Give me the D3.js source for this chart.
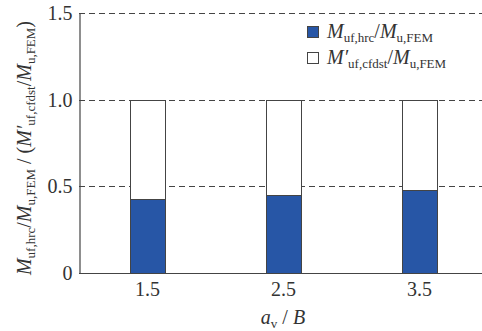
<!DOCTYPE html>
<html>
<head>
<meta charset="utf-8">
<script src="https://cdn.jsdelivr.net/npm/d3@7"></script>
<style>
  body { margin: 0; background: #fff; }
  svg text { font-family: "Times New Roman", "Liberation Serif", Tinos, serif !important; fill: #333; }
</style>
</head>
<body>
<div id="chart"></div>
<script>
// data
var ratios = [1.5, 2.5, 3.5];
var hrcValues = [0.43, 0.45, 0.48];   // M_uf,hrc / M_u,FEM
var cfdstValues = [1.0, 1.0, 1.0];    // M'_uf,cfdst / M_u,FEM
var yTicks = [0, 0.5, 1.0, 1.5];
var yTickLabels = ["0", "0.5", "1.0", "1.5"];

var W = 482, H = 331;
var margin = {top: 13, right: 0, bottom: 58, left: 79};

var x = d3.scaleLinear()
    .domain([1, 4])
    .range([margin.left, margin.left + 408]);

var y = d3.scaleLinear()
    .domain([0, 1.5])
    .range([H - margin.bottom, margin.top + 0.3]);

var barW = 35;
var blue = "#2756a6";
var stroke = "#444";

var svg = d3.select("#chart").append("svg")
    .attr("width", W)
    .attr("height", H);

// dashed grid lines
svg.append("g").selectAll("line")
    .data(yTicks.filter(function(d) { return d > 0; }))
    .enter().append("line")
    .attr("x1", margin.left)
    .attr("x2", W)
    .attr("y1", function(d) { return Math.round(y(d)) + 0.5; })
    .attr("y2", function(d) { return Math.round(y(d)) + 0.5; })
    .attr("stroke", stroke)
    .attr("stroke-width", 1)
    .attr("stroke-dasharray", "6,4");

// bars: white outline to the cfdst value, blue fill for hrc
var bars = svg.append("g").selectAll("g")
    .data(ratios)
    .enter().append("g");

bars.append("rect")
    .attr("x", function(d) { return Math.round(x(d) - barW / 2) + 0.5; })
    .attr("y", function(d, i) { return Math.round(y(cfdstValues[i])) + 0.5; })
    .attr("width", barW)
    .attr("height", function(d, i) { return Math.round(y(0)) - Math.round(y(cfdstValues[i])); })
    .attr("fill", "#fff")
    .attr("stroke", stroke);

bars.append("rect")
    .attr("x", function(d) { return Math.round(x(d) - barW / 2) + 0.5; })
    .attr("y", function(d, i) { return Math.round(y(hrcValues[i])) + 0.5; })
    .attr("width", barW)
    .attr("height", function(d, i) { return Math.round(y(0)) - Math.round(y(hrcValues[i])); })
    .attr("fill", blue)
    .attr("stroke", stroke);

// axes
var yAxis = svg.append("g")
    .attr("transform", "translate(" + (margin.left + 0.5) + ",0)")
    .call(d3.axisLeft(y).tickValues(yTicks)
        .tickFormat(function(d, i) { return yTickLabels[i]; })
        .tickSize(0).tickPadding(7));

var xAxis = svg.append("g")
    .attr("transform", "translate(0," + (Math.round(y(0)) + 0.5) + ")")
    .call(d3.axisBottom(x).tickValues(ratios)
        .tickFormat(d3.format(".1f"))
        .tickSize(0).tickPadding(8));

[yAxis, xAxis].forEach(function(a) {
  a.attr("font-family", null);
  a.select(".domain").attr("stroke", stroke).attr("stroke-width", 1.2);
  a.selectAll("text")
    .style("font-size", "20px")
    .attr("fill", "#333");
});
xAxis.select(".domain").attr("d", "M" + margin.left + ",0H" + W);

// x axis title
var xt = svg.append("text")
    .attr("x", 283)
    .attr("y", 324)
    .attr("text-anchor", "middle")
    .style("font-size", "20px");
xt.append("tspan").style("font-style", "italic").text("a");
xt.append("tspan").attr("baseline-shift", "-30%").style("font-size", "13px").text("v");
xt.append("tspan").text(" / ");
xt.append("tspan").style("font-style", "italic").text("B");

// helper for M with subscript
function addM(t, prime, sub, size, subSize) {
  t.append("tspan").style("font-style", "italic").style("font-size", size + "px").text(prime ? "M\u2032" : "M");
  t.append("tspan").attr("baseline-shift", "-30%").style("font-size", subSize + "px").text(sub);
}

// y axis title
var yt = svg.append("text")
    .attr("transform", "translate(31,148) rotate(-90)")
    .attr("text-anchor", "middle")
    .style("font-size", "20px");
addM(yt, false, "uf,hrc", 20, 13);
yt.append("tspan").text("/");
addM(yt, false, "u,FEM", 20, 13);
yt.append("tspan").text(" / (");
addM(yt, true, "uf,cfdst", 20, 13);
yt.append("tspan").text("/");
addM(yt, false, "u,FEM", 20, 13);
yt.append("tspan").text(")");

// legend
var legend = [
  {fill: blue, prime: false, sub: "uf,hrc"},
  {fill: "#fff", prime: true, sub: "uf,cfdst"}
];
var lg = svg.append("g").selectAll("g")
    .data(legend)
    .enter().append("g")
    .attr("transform", function(d, i) { return "translate(307," + (26 + i * 26) + ")"; });

lg.append("rect")
    .attr("x", 0.5).attr("y", 0.5)
    .attr("width", 11).attr("height", 11)
    .attr("fill", function(d) { return d.fill; })
    .attr("stroke", stroke);

lg.each(function(d) {
  var t = d3.select(this).append("text")
      .attr("x", 20)
      .attr("y", 12)
      .style("font-size", "20px");
  addM(t, d.prime, d.sub, 20, 13);
  t.append("tspan").text("/");
  addM(t, false, "u,FEM", 20, 13);
});
</script>
</body>
</html>
